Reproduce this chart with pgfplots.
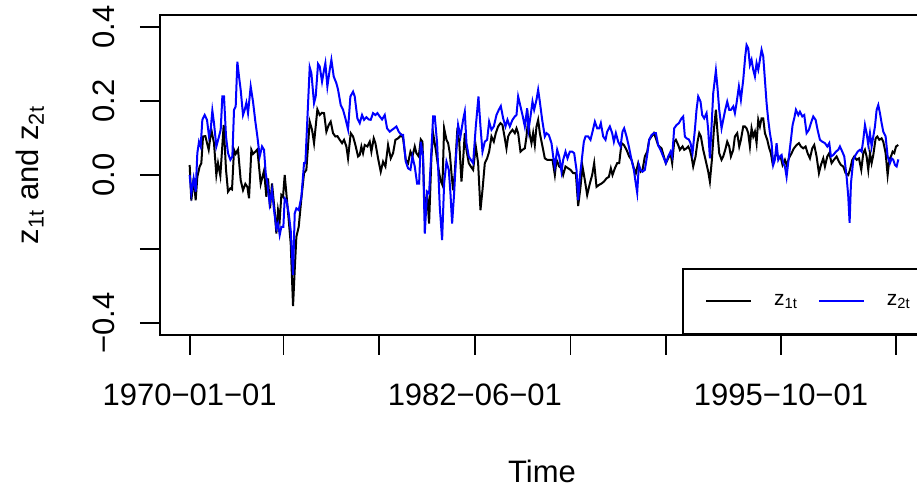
\documentclass[border=0pt]{standalone}
\usepackage{fontspec}
\setmainfont{Liberation Sans}
\usepackage{pgfplots}
\pgfplotsset{compat=1.18}
\usepackage{pgfplotstable}

\pgfplotstableread{
m v
0.00 0.027
0.87 -0.069
2.09 -0.009
3.14 -0.068
4.01 -0.005
5.23 0.023
6.10 0.032
6.97 0.104
8.19 0.105
9.94 0.068
11.33 0.122
12.72 0.086
13.94 0.000
14.82 0.032
16.03 -0.002
17.78 0.135
19.00 0.014
20.04 -0.045
21.26 -0.036
22.13 -0.039
23.18 0.068
24.05 0.057
25.27 0.069
26.66 -0.014
27.88 -0.041
29.10 -0.024
30.15 -0.032
31.02 -0.063
32.24 0.068
33.11 0.057
34.33 0.063
35.38 0.069
37.12 -0.024
38.86 0.012
40.08 -0.059
40.95 -0.009
42.00 -0.090
43.04 -0.023
44.44 -0.099
45.31 -0.158
46.18 -0.095
47.05 -0.122
47.92 -0.054
48.79 -0.059
49.66 0.000
50.54 -0.050
51.76 -0.122
52.80 -0.185
54.02 -0.354
54.89 -0.257
55.76 -0.167
56.98 -0.140
58.38 -0.063
59.77 0.005
60.98 0.014
62.72 0.144
63.94 0.122
64.99 0.086
66.73 0.177
67.95 0.162
69.17 0.168
70.22 0.167
71.44 0.117
72.66 0.135
73.70 0.144
74.92 0.113
76.14 0.104
77.19 0.105
78.41 0.095
79.63 0.086
80.67 0.095
81.89 0.077
82.76 0.045
84.16 0.113
85.38 0.104
86.60 0.081
87.99 0.050
88.86 0.054
89.73 0.077
90.60 0.059
91.48 0.081
92.87 0.077
94.09 0.090
94.96 0.063
96.18 0.099
97.05 0.086
98.45 0.045
99.84 0.009
101.06 0.036
102.28 0.023
103.67 0.081
105.07 0.045
106.29 0.059
107.51 0.095
108.90 0.099
110.64 0.108
111.52 0.099
112.92 0.041
114.14 0.032
115.36 0.063
116.40 0.050
117.62 0.077
118.49 0.059
119.71 0.050
120.76 0.096
121.63 0.090
122.85 -0.104
124.07 -0.050
125.11 -0.131
126.33 0.050
127.21 0.113
128.60 0.068
129.82 0.023
131.04 -0.014
132.08 -0.027
132.96 0.126
134.18 0.095
135.05 0.086
135.92 0.059
136.79 0.005
137.66 -0.041
138.53 0.005
139.75 0.113
140.80 0.095
142.02 -0.018
142.89 0.041
143.76 0.113
144.63 0.068
145.85 0.032
146.90 0.023
148.12 0.014
149.51 0.077
150.73 0.032
151.95 -0.095
153.00 -0.041
154.22 0.032
155.43 0.045
156.48 0.063
157.70 0.104
158.92 0.090
159.96 0.113
161.18 0.131
162.40 0.140
163.45 0.135
164.67 0.099
165.54 0.072
166.41 0.104
167.28 0.113
168.68 0.122
169.90 0.113
170.77 0.126
171.64 0.113
172.86 0.063
173.90 0.068
175.13 0.072
176.00 0.104
176.87 0.149
177.74 0.108
178.61 0.086
179.48 0.113
180.35 0.081
181.22 0.131
182.09 0.149
182.97 0.113
184.36 0.077
185.58 0.045
186.80 0.041
188.19 0.041
189.59 0.041
190.81 0.000
191.68 0.041
193.07 0.023
194.29 0.018
195.16 0.000
196.38 0.023
197.77 0.018
199.00 0.014
200.39 0.005
201.79 0.005
203.00 -0.084
204.22 -0.032
205.27 0.023
206.49 -0.014
207.71 -0.054
209.10 -0.023
210.32 0.000
211.37 0.032
212.59 -0.032
213.81 -0.027
215.20 -0.023
216.42 -0.018
217.82 -0.009
219.04 -0.005
220.08 0.018
220.95 0.000
222.17 0.018
223.39 0.032
224.44 0.032
225.66 0.086
226.88 0.081
228.27 0.068
229.66 0.050
230.88 0.041
232.10 0.018
233.15 0.005
234.37 0.032
235.59 0.009
236.63 0.014
237.85 0.050
239.07 0.063
240.12 0.095
241.34 0.104
242.56 0.113
243.61 0.099
244.82 0.080
246.56 0.072
247.78 0.050
248.82 0.032
250.04 0.045
251.26 0.059
252.13 0.032
253.18 0.090
254.05 0.095
255.27 0.081
256.14 0.068
257.53 0.077
258.40 0.068
259.63 0.072
260.50 0.077
261.37 0.068
262.24 0.050
263.11 0.023
264.33 0.050
265.38 0.090
266.25 0.113
267.12 0.104
268.34 0.068
269.56 0.041
270.95 0.009
271.82 -0.018
272.87 0.041
273.91 0.122
274.96 0.176
275.83 0.113
276.70 0.059
277.92 0.041
278.79 0.050
279.84 0.068
280.88 0.090
281.93 0.077
282.80 0.050
284.02 0.068
284.89 0.104
286.11 0.113
287.16 0.077
288.03 0.095
289.25 0.131
290.12 0.131
290.99 0.126
291.86 0.113
292.73 0.077
293.60 0.126
294.48 0.104
295.35 0.117
296.22 0.086
297.09 0.149
297.96 0.131
298.83 0.153
299.70 0.153
300.58 0.113
301.80 0.095
302.84 0.072
303.71 0.059
304.58 0.032
305.80 0.050
306.67 0.059
307.89 0.045
308.76 0.050
309.81 0.027
311.03 0.041
311.90 0.027
313.12 0.045
314.51 0.059
315.73 0.072
317.13 0.081
318.35 0.086
319.39 0.077
320.61 0.072
321.83 0.077
322.88 0.059
324.10 0.045
325.32 0.072
326.36 0.081
327.58 0.050
328.80 0.005
329.85 0.027
331.07 0.045
331.94 0.023
333.16 0.050
334.20 0.059
335.42 0.032
336.64 0.041
338.04 0.050
339.26 0.036
340.30 0.027
341.52 0.023
342.74 0.005
344.14 0.000
345.01 0.014
346.23 0.041
347.27 0.050
348.49 0.041
349.71 0.045
350.93 0.014
351.98 0.059
352.85 0.068
353.72 0.050
354.59 0.014
355.46 0.059
356.34 0.032
357.21 0.054
358.43 0.099
359.30 0.104
360.34 0.095
361.56 0.099
362.43 0.090
363.65 0.059
364.70 0.000
365.57 0.041
366.44 0.050
367.31 0.063
368.18 0.059
369.06 0.077
370.28 0.081
}\zone

\pgfplotstableread{
m v
0.00 0.000
0.87 -0.050
2.09 -0.009
3.14 -0.045
4.01 0.059
4.88 0.090
5.75 0.077
6.63 0.149
7.84 0.162
9.06 0.149
10.11 0.104
10.98 0.122
11.85 0.174
12.72 0.140
13.94 0.077
15.34 0.104
16.21 0.122
17.08 0.212
17.95 0.212
19.00 0.104
20.04 0.059
21.26 0.041
22.31 0.050
23.18 0.176
24.05 0.185
24.92 0.306
25.79 0.266
26.66 0.230
27.88 0.162
28.76 0.176
29.63 0.195
30.50 0.167
31.89 0.239
33.11 0.198
34.33 0.144
35.38 0.104
36.60 0.050
37.82 0.077
38.86 0.068
39.73 0.005
40.60 -0.023
41.82 -0.077
43.04 -0.041
44.09 -0.095
45.31 -0.144
46.18 -0.131
47.05 -0.162
47.92 -0.140
48.96 -0.140
49.66 -0.063
50.54 -0.068
51.76 -0.104
52.80 -0.149
54.02 -0.270
54.89 -0.104
55.76 -0.090
56.98 -0.095
58.38 -0.059
59.77 0.032
60.47 0.032
62.72 0.291
63.60 0.275
64.99 0.194
65.86 0.212
67.08 0.300
67.95 0.293
69.17 0.252
70.22 0.284
70.91 0.302
71.96 0.239
73.18 0.284
74.05 0.311
75.27 0.266
76.66 0.248
77.54 0.230
78.93 0.189
80.15 0.176
81.37 0.153
82.76 0.123
83.98 0.212
85.38 0.225
86.25 0.212
87.64 0.153
88.86 0.140
90.08 0.162
91.13 0.149
92.35 0.156
93.57 0.150
94.61 0.149
95.83 0.167
97.05 0.162
98.10 0.167
99.32 0.158
100.54 0.150
101.93 0.162
103.15 0.126
104.54 0.117
105.76 0.122
106.81 0.126
108.03 0.131
109.25 0.117
110.64 0.108
111.52 0.108
112.92 0.036
114.14 0.018
115.36 0.014
116.40 0.050
117.62 0.023
118.84 -0.023
119.89 -0.023
120.76 0.090
121.98 0.050
122.85 -0.158
124.07 -0.045
125.11 -0.050
126.33 0.068
127.21 0.158
128.08 0.158
129.30 0.086
130.69 -0.086
131.91 -0.176
132.96 -0.023
134.18 0.036
135.40 0.014
136.27 -0.050
137.14 -0.131
138.18 -0.050
139.40 0.068
140.27 0.135
141.49 0.104
142.89 0.149
143.76 0.171
144.63 0.086
145.85 0.050
146.90 0.041
148.12 0.032
149.51 0.131
150.90 0.212
151.95 0.131
153.00 0.063
154.22 0.090
155.43 0.095
156.48 0.144
157.70 0.122
158.92 0.131
160.31 0.162
161.53 0.176
162.58 0.186
163.80 0.153
165.02 0.131
166.06 0.149
167.28 0.131
168.68 0.149
169.90 0.158
170.77 0.162
171.64 0.212
172.86 0.185
173.90 0.162
175.13 0.131
176.34 0.180
177.04 0.122
178.09 0.158
179.13 0.198
180.00 0.176
181.22 0.203
182.09 0.230
182.97 0.198
184.19 0.149
185.58 0.104
186.45 0.113
187.67 0.108
189.06 0.086
189.94 0.050
190.81 0.023
192.03 0.068
193.07 0.050
194.29 0.009
195.16 0.041
196.38 0.063
197.43 0.045
198.65 0.063
199.87 0.063
200.91 0.059
202.13 0.014
203.00 -0.068
203.88 -0.005
205.09 0.050
205.97 0.090
206.84 0.104
208.23 0.104
209.45 0.095
210.50 0.117
211.72 0.144
212.94 0.126
213.98 0.126
214.85 0.140
216.07 0.104
217.29 0.095
218.16 0.117
219.56 0.131
220.78 0.113
221.65 0.090
222.70 0.113
223.91 0.090
225.13 0.077
226.18 0.117
227.05 0.126
228.27 0.104
229.49 0.077
230.88 0.041
232.10 0.014
232.97 -0.018
233.84 -0.048
234.72 0.027
235.59 0.014
236.63 0.009
237.85 0.014
239.07 0.054
240.12 0.095
241.34 0.108
242.56 0.113
243.61 0.113
244.82 0.080
246.03 0.068
247.43 0.050
248.82 0.032
250.04 0.050
251.26 0.063
252.13 0.050
253.18 0.126
254.40 0.135
255.62 0.140
257.01 0.153
257.88 0.158
258.75 0.104
259.63 0.099
260.84 0.096
261.72 0.086
262.76 0.059
263.98 0.122
264.85 0.176
265.72 0.212
266.94 0.198
267.81 0.162
268.86 0.153
270.08 0.167
270.95 0.122
271.82 0.045
272.69 0.131
273.57 0.221
274.96 0.282
275.83 0.234
276.70 0.176
277.92 0.126
278.79 0.149
279.84 0.176
280.88 0.198
281.93 0.176
282.80 0.176
284.02 0.185
284.89 0.167
285.76 0.194
286.98 0.239
288.03 0.203
289.25 0.257
290.29 0.320
290.99 0.351
291.86 0.342
292.73 0.297
293.60 0.311
294.48 0.284
295.35 0.266
296.22 0.302
297.09 0.284
297.96 0.311
298.83 0.338
299.70 0.320
300.58 0.257
301.45 0.194
302.32 0.149
303.19 0.113
304.06 0.086
304.93 0.027
305.80 0.041
306.67 0.086
307.54 0.041
308.42 0.050
309.29 0.054
310.16 0.032
311.03 0.023
311.90 -0.005
313.12 0.050
314.16 0.095
315.04 0.135
315.91 0.153
316.78 0.176
318.00 0.162
318.87 0.171
320.09 0.158
321.13 0.162
322.36 0.113
323.57 0.122
324.62 0.140
325.84 0.158
327.06 0.149
328.10 0.122
329.33 0.095
330.54 0.090
331.94 0.086
333.16 0.077
334.20 0.086
335.08 0.050
336.30 0.054
337.69 0.063
338.91 0.068
339.78 0.077
341.00 0.063
342.05 0.050
343.27 -0.005
344.14 -0.059
344.83 -0.129
345.53 -0.023
346.75 0.041
347.97 0.054
349.02 0.063
350.24 0.068
351.11 0.063
351.98 0.095
352.85 0.135
353.72 0.113
354.59 0.081
355.46 0.113
356.34 0.077
357.21 0.104
358.08 0.131
358.95 0.176
359.82 0.189
360.69 0.167
361.56 0.140
362.43 0.117
363.65 0.104
364.70 0.050
365.92 0.032
366.79 0.045
367.66 0.041
368.53 0.027
369.40 0.023
370.28 0.042
}\ztwo

\begin{document}
\begin{tikzpicture}
\begin{axis}[
  scale only axis, width=382pt, height=160pt,
  at={(0pt,0pt)}, anchor=south west,
  xmin=-15.5, xmax=383.7, ymin=-0.432, ymax=0.432,
  axis line style={line width=0.9pt},
  tick style={line width=0.9pt, black},
  tick align=outside, major tick length=10pt,
  xtick pos=bottom, ytick pos=left,
  xtick={0,49,99,149,199,249,309,369},
  xticklabels={1970−01−01,,,1982−06−01,,,1995−10−01,},
  ytick={-0.4,-0.2,0,0.2,0.4},
  yticklabels={−0.4,,0.0,0.2,0.4},
  ticklabel style={font=\fontsize{15.5}{18}\selectfont},
  xticklabel style={anchor=north, inner sep=0pt},
  yticklabel style={rotate=90, anchor=south, inner sep=0pt},
  xticklabel shift=14pt,
  yticklabel shift=12.5pt,
  every axis x label/.style={at={(rel axis cs:0.5,0)}, anchor=center, yshift=-68pt, font=\fontsize{15.5}{18}\selectfont},
  every axis y label/.style={at={(rel axis cs:0,0.5)}, anchor=center, xshift=-65pt, rotate=90, font=\fontsize{15.5}{18}\selectfont},
  xlabel={Time},
  ylabel={z\textsubscript{1t} and z\textsubscript{2t}},
  legend columns=2,
  legend image code/.code={\draw[#1] (0pt,0pt) -- (22.5pt,0pt);},
  legend style={at={(rel axis cs:0.6835,0)}, anchor=south west, draw=black, line width=0.9pt,
    fill=white, inner xsep=11pt, inner ysep=12.8pt, font=\fontsize{10.5}{12}\selectfont,
    nodes={inner sep=0pt},
    /tikz/every odd column/.append style={column sep=11pt},
    /tikz/every even column/.append style={column sep=10pt}},
]
\addplot[black, line width=1pt] table[x=m,y=v]{\zone};
\addlegendentry{z\textsubscript{1t}}
\addplot[blue, line width=1pt] table[x=m,y=v]{\ztwo};
\addlegendentry{z\textsubscript{2t}}
\end{axis}
\pgfresetboundingbox
\path[use as bounding box] (-80pt,-78pt) rectangle (378.5pt,167.5pt);
\end{tikzpicture}
\end{document}
